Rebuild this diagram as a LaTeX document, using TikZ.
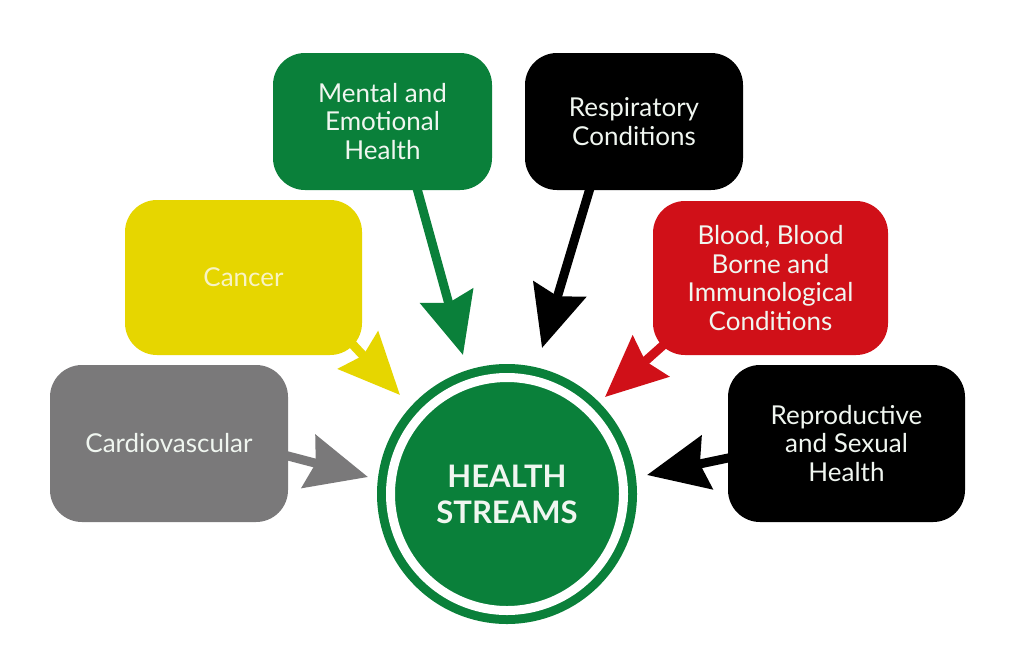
\documentclass[tikz,border=0pt]{standalone}
\usepackage{fontspec}
\setmainfont{Lato}
\usetikzlibrary{arrows.meta,backgrounds}
\definecolor{hgreen}{RGB}{10,128,58}
\definecolor{hyellow}{RGB}{230,214,0}
\definecolor{hred}{RGB}{208,16,24}
\definecolor{hgray}{RGB}{122,121,122}
\definecolor{paleyellow}{RGB}{248,243,196}
\definecolor{offwhite}{RGB}{240,246,240}
\begin{document}
\begin{tikzpicture}[x=1pt,y=-1pt,
  box/.style={rounded corners=32pt, inner sep=0pt, align=center, text=offwhite,
    font=\fontsize{26}{28.5}\selectfont},
  arr/.style={line width=9pt, shorten <=-30pt,
    -{Stealth[length=61pt,width=54pt,inset=7pt]}},
  hubstyle/.style={circle, fill=hgreen, draw=hgreen, line width=9pt, double=white,
    double distance=9pt, minimum size=233pt, inner sep=0pt, align=center, text=offwhite,
    font=\bfseries\fontsize{31}{36}\selectfont}]
\useasboundingbox (0,0) rectangle (1024,670);

\node[box, fill=hgreen, minimum width=219pt, minimum height=137pt] (mental) at (382.5,121.5) {Mental and\\Emotional\\Health};
\node[box, fill=black, minimum width=218pt, minimum height=137pt] (resp) at (634,121.5) {Respiratory\\Conditions};
\node[box, fill=hyellow, text=paleyellow, minimum width=237pt, minimum height=155pt] (cancer) at (243.5,277.5) {Cancer};
\node[box, fill=hred, minimum width=235pt, minimum height=154pt] (blood) at (770.5,278) {Blood, Blood\\Borne and\\Immunological\\Conditions};
\node[box, fill=hgray, minimum width=238pt, minimum height=157pt] (cardio) at (169,443.5) {Cardiovascular};
\node[box, fill=black, minimum width=237pt, minimum height=157pt] (repro) at (846.5,443.5) {Reproductive\\and Sexual\\Health};

\node[hubstyle] (hub) at (507,494) {HEALTH\\STREAMS};

\coordinate (tmental) at (463,355);
\coordinate (tresp) at (542,348);
\coordinate (tcancer) at (400,395);
\coordinate (tblood) at (605,397);
\coordinate (tcardio) at (368,477);
\coordinate (trepro) at (647,475);

\begin{pgfonlayer}{background}
\fill[white] (0,0) rectangle (1024,670);
\draw[arr, hgreen] (mental.-63) -- (tmental);
\draw[arr, black] (resp.-123) -- (tresp);
\draw[arr, hyellow] (cancer.-33.9) -- (tcancer);
\draw[arr, hred] (blood.-147.5) -- (tblood);
\draw[arr, hgray] (cardio.-6.5) -- (tcardio);
\draw[arr, black] (repro.-173.5) -- (trepro);
\end{pgfonlayer}
\end{tikzpicture}
\end{document}
